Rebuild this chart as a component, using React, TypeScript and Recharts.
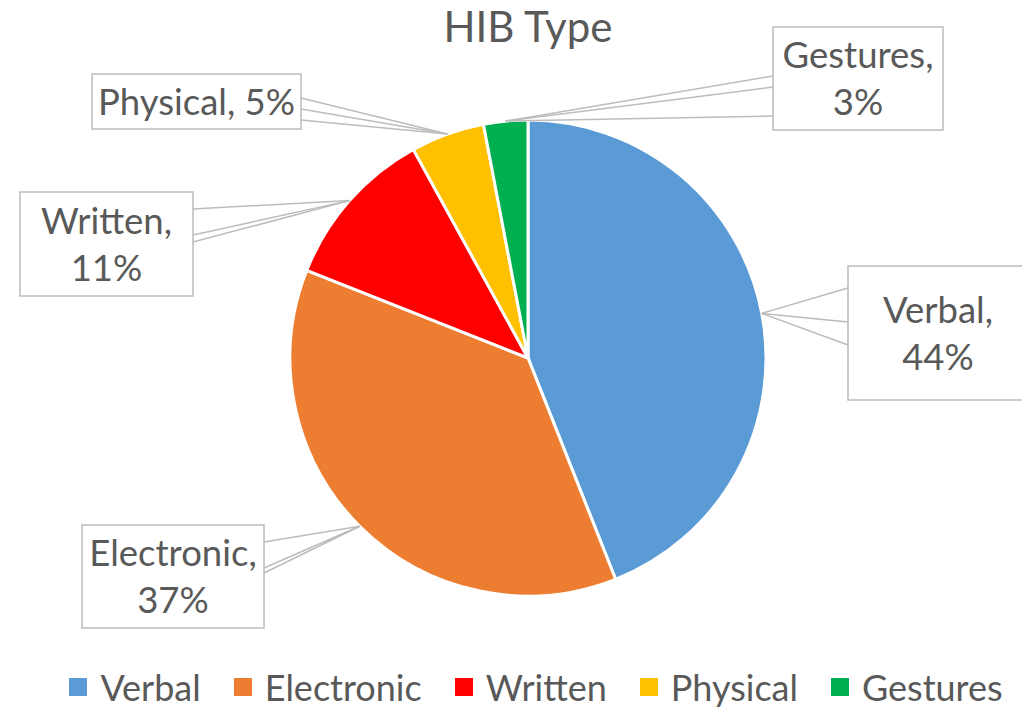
import React from 'react';
import { PieChart, Pie, Cell, Legend } from 'recharts';

const categories = ['Verbal', 'Electronic', 'Written', 'Physical', 'Gestures'];
const shares = [44, 37, 11, 5, 3];
const sliceColors = ['#5b9bd5', '#ed7d31', '#ff0000', '#ffc000', '#00b050'];

const data = categories.map((name, i) => ({ name, value: shares[i] }));

const FONT = 'Lato, "Open Sans", sans-serif';
const TEXT = '#595959';
const LINE = '#bcbcbc';
const RAD = Math.PI / 180;

// callout boxes (Excel style), edge = y positions where leader lines hit the box side
const callouts = [
  { x: 848, y: 266, w: 180, h: 134, side: 'left', edge: [288, 322, 345], split: true },
  { x: 82, y: 525, w: 182, h: 103, side: 'right', edge: [542, 568, 573], split: true },
  { x: 20, y: 192, w: 173, h: 104, side: 'right', edge: [209, 235, 242], split: true },
  { x: 92, y: 74, w: 209, h: 55, side: 'right', edge: [98, 109, 120], split: false },
  { x: 773, y: 27, w: 170, h: 103, side: 'left', edge: [76, 87, 116], split: true },
];

const LABEL_SIZE = 36.5;

function Callout(props: any) {
  const { cx, cy, midAngle, outerRadius, index, name, percent } = props;
  const box = callouts[index];
  const tx = cx + outerRadius * Math.cos(-midAngle * RAD);
  const ty = cy + outerRadius * Math.sin(-midAngle * RAD);
  const ex = box.side === 'left' ? box.x : box.x + box.w;
  const pct = `${Math.round(percent * 100)}%`;
  const lines = box.split ? [`${name},`, pct] : [`${name}, ${pct}`];
  const lh = 47;
  const capH = LABEL_SIZE * 0.72;
  const midY = box.y + box.h / 2;
  const first = midY - ((lines.length - 1) * lh) / 2 + capH / 2;
  return (
    <g>
      <rect x={box.x} y={box.y} width={box.w} height={box.h} fill="#fff" stroke={LINE} strokeWidth={1.5} />
      {box.edge.map((ey: number, k: number) => (
        <line key={k} x1={tx} y1={ty} x2={ex} y2={ey} stroke={LINE} strokeWidth={1.5} />
      ))}
      {lines.map((t, k) => (
        <text
          key={k}
          x={box.x + box.w / 2}
          y={first + k * lh}
          textAnchor="middle"
          fill={TEXT}
          fontSize={LABEL_SIZE}
          fontFamily={FONT}
        >
          {t}
        </text>
      ))}
    </g>
  );
}

function LegendRow() {
  return (
    <div
      style={{
        display: 'flex',
        justifyContent: 'center',
        alignItems: 'center',
        gap: 33,
        fontFamily: FONT,
        fontSize: 36,
        color: TEXT,
        paddingLeft: 50,
      }}
    >
      {categories.map((c, i) => (
        <div key={c} style={{ display: 'flex', alignItems: 'center' }}>
          <span style={{ width: 18, height: 18, background: sliceColors[i], marginRight: 13 }} />
          <span>{c}</span>
        </div>
      ))}
    </div>
  );
}

export default function App() {
  return (
    <div style={{ position: 'absolute', left: 0, top: 0, width: 1022, height: 708, background: '#fff' }}>
      <div
        style={{
          position: 'absolute',
          top: 5,
          left: 0,
          width: 1056,
          textAlign: 'center',
          fontFamily: FONT,
          fontSize: 42,
          lineHeight: '42px',
          color: TEXT,
        }}
      >
        HIB Type
      </div>
      <PieChart width={1022} height={708} margin={{ top: 0, right: 0, bottom: 0, left: 0 }}>
        <Pie
          data={data}
          dataKey="value"
          nameKey="name"
          cx={528}
          cy={358}
          outerRadius={238}
          startAngle={90}
          endAngle={-270}
          stroke="#fff"
          strokeWidth={3}
          labelLine={false}
          label={Callout}
          isAnimationActive={false}
        >
          {data.map((d, i) => (
            <Cell key={d.name} fill={sliceColors[i]} />
          ))}
        </Pie>
        <Legend
          content={() => <LegendRow />}
          wrapperStyle={{ position: 'absolute', top: 665, left: 0, width: 1022 }}
        />
      </PieChart>
    </div>
  );
}
